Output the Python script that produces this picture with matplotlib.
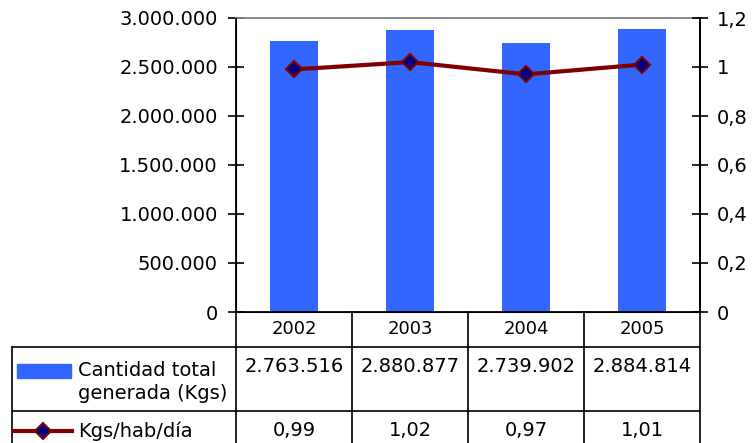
import matplotlib.pyplot as plt
from matplotlib.lines import Line2D
from matplotlib.patches import Rectangle
from matplotlib.ticker import FixedLocator

years = ['2002', '2003', '2004', '2005']
cantidad = [2763516, 2880877, 2739902, 2884814]
kgs_hab_dia = [0.99, 1.02, 0.97, 1.01]
left_ticks = [0, 500000, 1000000, 1500000, 2000000, 2500000, 3000000]
right_ticks = [0, 0.2, 0.4, 0.6, 0.8, 1.0, 1.2]

BAR = '#3366FF'
LINE = '#800000'
MARK = '#000080'
FS = 14


def es_int(v):
    return f'{v:,.0f}'.replace(',', '.')


def es_dec(v, nd=2):
    return f'{v:.{nd}f}'.replace('.', ',')


def es_tick(v):
    s = f'{v:g}'
    return s.replace('.', ',')


def main():
    W, H = 753, 443
    fig = plt.figure(figsize=(W / 100, H / 100), dpi=100)
    x0, x1, y0, y1 = 236, 700, 312, 18
    ax = fig.add_axes([x0 / W, 1 - y0 / H, (x1 - x0) / W, (y0 - y1) / H])
    xs = list(range(len(years)))
    ax.bar(xs, cantidad, width=0.42, color=BAR, zorder=2)
    ax.set_xlim(-0.5, len(years) - 0.5)
    ax.set_ylim(0, 3000000)
    ax.yaxis.set_major_locator(FixedLocator(left_ticks))
    ax.set_yticklabels([es_int(v) for v in left_ticks], fontsize=FS)
    ax.set_xticks([])
    ax.tick_params(axis='y', direction='inout', length=12, width=1.2, pad=7)
    for s in ['left', 'bottom', 'right']:
        ax.spines[s].set_color('black')
        ax.spines[s].set_linewidth(1.3)
    ax.spines['top'].set_color('#808080')
    ax.spines['top'].set_linewidth(1.3)

    ax2 = ax.twinx()
    ax2.plot(xs, kgs_hab_dia, color=LINE, lw=3, marker='D', ms=8,
             mfc=MARK, mec=LINE, mew=1.5, zorder=3)
    ax2.set_ylim(0, 1.2)
    ax2.yaxis.set_major_locator(FixedLocator(right_ticks))
    ax2.set_yticklabels([es_tick(v) for v in right_ticks], fontsize=FS)
    ax2.tick_params(axis='y', direction='inout', length=12, width=1.2, pad=6)
    ax2.spines['right'].set_linewidth(1.3)
    ax2.spines['top'].set_visible(False)

    # data table below the plot
    ph = y0 - y1
    pw = x1 - x0

    def fy(py):
        return (y0 - py) / ph

    def fx(px):
        return (px - x0) / pw

    trb = ax.get_xaxis_transform()
    tra = ax.transAxes
    rows = [312, 347, 411, 443]
    kw = dict(color='black', lw=1.2, clip_on=False)
    for b in [i - 0.5 for i in range(len(years) + 1)]:
        ax.add_line(Line2D([b, b], [fy(rows[0]), fy(rows[3])], transform=trb, **kw))
    for r in rows[1:3]:
        ax.add_line(Line2D([fx(12), 1], [fy(r), fy(r)], transform=tra, **kw))
    ax.add_line(Line2D([fx(12), fx(12)], [fy(347), fy(443)], transform=tra, **kw))

    for i, y in enumerate(years):
        ax.text(i, fy(329), y, transform=trb, ha='center', va='center',
                fontsize=FS - 1)
        ax.text(i, fy(367), es_int(cantidad[i]), transform=trb, ha='center',
                va='center', fontsize=FS)
        ax.text(i, fy(430), es_dec(kgs_hab_dia[i]), transform=trb,
                ha='center', va='center', fontsize=FS)

    ax.add_patch(Rectangle((fx(17), fy(378)), fx(71) - fx(17), fy(364) - fy(378),
                           transform=tra, color=BAR, clip_on=False))
    ax.text(fx(78), fy(382), 'Cantidad total\ngenerada (Kgs)', transform=tra,
            ha='left', va='center', fontsize=FS, linespacing=1.3)
    ax.add_line(Line2D([fx(14), fx(72)], [fy(431), fy(431)], transform=tra,
                       color=LINE, lw=3, clip_on=False))
    ax.add_line(Line2D([fx(43)], [fy(431)], transform=tra, marker='D', ms=8,
                       mfc=MARK, mec=LINE, mew=1.5, clip_on=False))
    ax.text(fx(78), fy(431), 'Kgs/hab/día', transform=tra, ha='left',
            va='center', fontsize=FS)

    fig.savefig('out.png', dpi=100)


if __name__ == '__main__':
    main()
